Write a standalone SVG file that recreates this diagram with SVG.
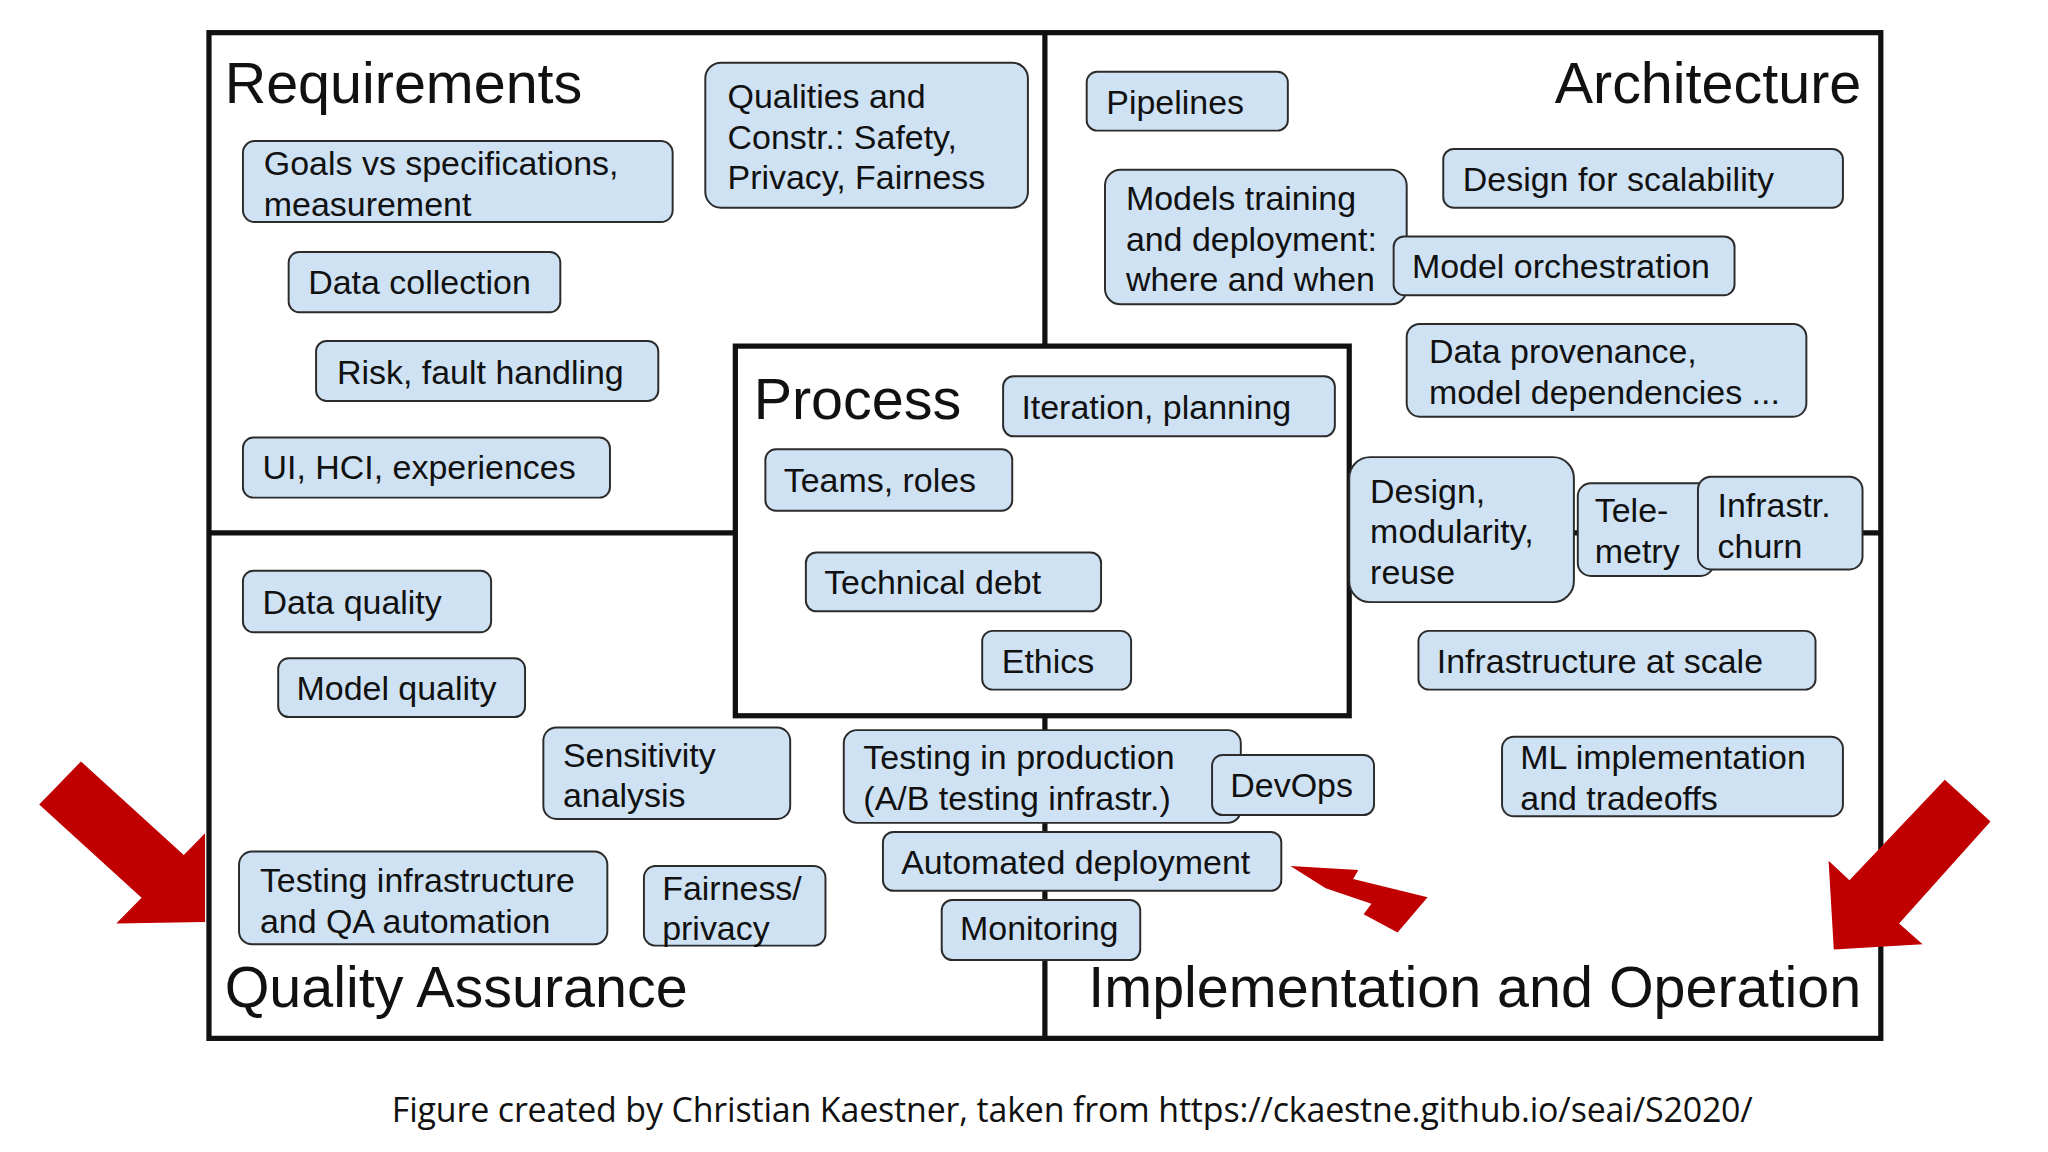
<svg xmlns="http://www.w3.org/2000/svg" width="2048" height="1152" viewBox="0 0 2048 1152">
<style>
.b{fill:#cfe2f3;stroke:#2b2b2b;stroke-width:1.5}
.t{font-family:"Liberation Sans",Arial,sans-serif;font-size:26px;fill:#111}
.h{font-family:"Liberation Sans",Arial,sans-serif;font-size:44px;fill:#111}
.f{fill:none;stroke:#111;stroke-width:4}
.r{fill:#c00000}
</style>
<rect width="2048" height="1152" fill="#fff"/>
<g transform="scale(1.30612)">
<g id="frame">
<rect class="f" x="160" y="25" width="1280" height="770"/>
<line class="f" x1="800" y1="25" x2="800" y2="265"/>
<line class="f" x1="800" y1="548" x2="800" y2="795"/>
<line class="f" x1="160" y1="408" x2="563" y2="408"/>
<line class="f" x1="1033" y1="408" x2="1440" y2="408"/>
<rect class="f" x="563" y="265" width="470" height="283"/>
</g>
<g id="titles">
<text class="h" x="172" y="79">Requirements</text>
<text class="h" x="1425" y="79" text-anchor="end">Architecture</text>
<text class="h" x="577" y="321">Process</text>
<text class="h" x="172" y="771">Quality Assurance</text>
<text class="h" x="1425" y="771" text-anchor="end">Implementation and Operation</text>
</g>
<g id="connectors"></g>
<g id="n-goals"><rect class="b" x="186" y="108" width="329" height="62" rx="9"/><text class="t" x="202" y="134">Goals vs specifications,</text><text class="t" x="202" y="165">measurement</text></g>
<g id="n-qualities"><rect class="b" x="540" y="48" width="247" height="111" rx="12"/><text class="t" x="557" y="83">Qualities and</text><text class="t" x="557" y="114">Constr.: Safety,</text><text class="t" x="557" y="145">Privacy, Fairness</text></g>
<g id="n-datacol"><rect class="b" x="221" y="193" width="208" height="46" rx="8"/><text class="t" x="236" y="225">Data collection</text></g>
<g id="n-risk"><rect class="b" x="242" y="261" width="262" height="46" rx="8"/><text class="t" x="258" y="294">Risk, fault handling</text></g>
<g id="n-ui"><rect class="b" x="186" y="335" width="281" height="46" rx="8"/><text class="t" x="201" y="367">UI, HCI, experiences</text></g>
<g id="n-pipelines"><rect class="b" x="832" y="55" width="154" height="45" rx="8"/><text class="t" x="847" y="87">Pipelines</text></g>
<g id="n-models"><rect class="b" x="846" y="130" width="231" height="103" rx="12"/><text class="t" x="862" y="161">Models training</text><text class="t" x="862" y="192">and deployment:</text><text class="t" x="862" y="223">where and when</text></g>
<g id="n-scal"><rect class="b" x="1105" y="114" width="306" height="45" rx="8"/><text class="t" x="1120" y="146">Design for scalability</text></g>
<g id="n-orch"><rect class="b" x="1067" y="181" width="261" height="45" rx="8"/><text class="t" x="1081" y="213">Model orchestration</text></g>
<g id="n-prov"><rect class="b" x="1077" y="248" width="306" height="71" rx="10"/><text class="t" x="1094" y="278">Data provenance,</text><text class="t" x="1094" y="309">model dependencies ...</text></g>
<g id="n-iter"><rect class="b" x="768" y="288" width="254" height="46" rx="8"/><text class="t" x="782" y="321">Iteration, planning</text></g>
<g id="n-teams"><rect class="b" x="586" y="344" width="189" height="47" rx="8"/><text class="t" x="600" y="377">Teams, roles</text></g>
<g id="n-debt"><rect class="b" x="617" y="423" width="226" height="45" rx="8"/><text class="t" x="631" y="455">Technical debt</text></g>
<g id="n-ethics"><rect class="b" x="752" y="483" width="114" height="45" rx="8"/><text class="t" x="767" y="515">Ethics</text></g>
<g id="n-design"><rect class="b" x="1033" y="350" width="172" height="111" rx="16"/><text class="t" x="1049" y="385">Design,</text><text class="t" x="1049" y="416">modularity,</text><text class="t" x="1049" y="447">reuse</text></g>
<g id="n-tele"><rect class="b" x="1208" y="370" width="104" height="71" rx="10"/><text class="t" x="1221" y="400">Tele-</text><text class="t" x="1221" y="431">metry</text></g>
<g id="n-churn"><rect class="b" x="1300" y="365" width="126" height="71" rx="10"/><text class="t" x="1315" y="396">Infrastr.</text><text class="t" x="1315" y="427">churn</text></g>
<g id="n-infscale"><rect class="b" x="1086" y="483" width="304" height="45" rx="8"/><text class="t" x="1100" y="515">Infrastructure at scale</text></g>
<g id="n-dq"><rect class="b" x="186" y="437" width="190" height="47" rx="8"/><text class="t" x="201" y="470">Data quality</text></g>
<g id="n-mq"><rect class="b" x="213" y="504" width="189" height="45" rx="8"/><text class="t" x="227" y="536">Model quality</text></g>
<g id="n-sens"><rect class="b" x="416" y="557" width="189" height="70" rx="10"/><text class="t" x="431" y="587">Sensitivity</text><text class="t" x="431" y="618">analysis</text></g>
<g id="n-tip"><rect class="b" x="646" y="559" width="304" height="71" rx="10"/><text class="t" x="661" y="589">Testing in production</text><text class="t" x="661" y="620">(A/B testing infrastr.)</text></g>
<g id="n-devops"><rect class="b" x="928" y="578" width="124" height="46" rx="8"/><text class="t" x="942" y="610">DevOps</text></g>
<g id="n-mlimpl"><rect class="b" x="1150" y="564" width="261" height="61" rx="9"/><text class="t" x="1164" y="589">ML implementation</text><text class="t" x="1164" y="620">and tradeoffs</text></g>
<g id="n-auto"><rect class="b" x="676" y="637" width="305" height="45" rx="8"/><text class="t" x="690" y="669">Automated deployment</text></g>
<g id="n-mon"><rect class="b" x="721" y="689" width="152" height="46" rx="8"/><text class="t" x="735" y="720">Monitoring</text></g>
<g id="n-testinf"><rect class="b" x="183" y="652" width="282" height="71" rx="10"/><text class="t" x="199" y="683">Testing infrastructure</text><text class="t" x="199" y="714">and QA automation</text></g>
<g id="n-fair"><rect class="b" x="493" y="663" width="139" height="61" rx="9"/><text class="t" x="507" y="689">Fairness/</text><text class="t" x="507" y="720">privacy</text></g>
<g id="arrows">
<polygon class="r" points="62,583 140.7,654.6 157,638 157,706 89,707 108.4,687.3 30,616"/>
<polygon class="r" points="1489,597 1524,629 1454,707 1472,723 1404,727 1400,659 1416,674"/>
<polygon class="r" points="988,663 1040,666 1036,673 1093,687 1070,714 1044,700 1050,692 1015,680"/>
</g>
<text x="821" y="859" text-anchor="middle" textLength="1042" font-family="'Open Sans','Noto Sans',sans-serif" font-size="26" fill="#111">Figure created by Christian Kaestner, taken from https://ckaestne.github.io/seai/S2020/</text>
</g>
</svg>
